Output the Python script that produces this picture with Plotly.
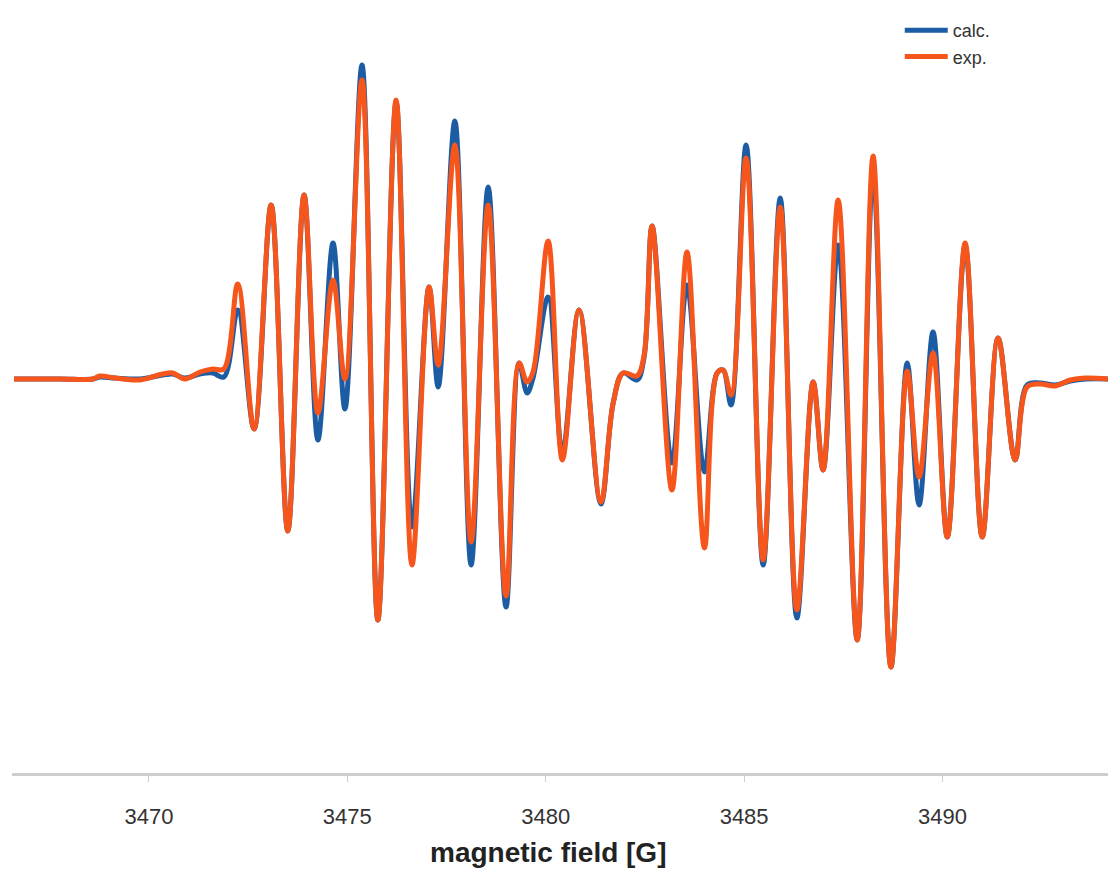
import plotly.graph_objects as go

# magnetic field positions [G] of the read-off points
field = [3466.60, 3467.76, 3468.59, 3468.76, 3469.14, 3469.77, 3470.35, 3470.60, 3470.91, 3471.29, 3471.61, 3471.89,
         3472.24, 3472.65, 3473.08, 3473.50, 3473.91, 3474.26, 3474.64, 3474.94, 3475.37, 3475.77,
         3476.23, 3476.63, 3477.06, 3477.29, 3477.71, 3478.12, 3478.55, 3479.00, 3479.33, 3479.53,
         3479.68, 3480.06, 3480.42, 3480.84, 3481.39, 3481.70, 3481.95, 3482.30, 3482.48, 3482.68,
         3483.18, 3483.56, 3484.00, 3484.32, 3484.47, 3484.67, 3485.05, 3485.48, 3485.91, 3486.33,
         3486.74, 3486.99, 3487.37, 3487.85, 3488.25, 3488.70, 3489.11, 3489.41, 3489.76, 3490.12,
         3490.57, 3491.00, 3491.40, 3491.83, 3492.13, 3492.46, 3492.84, 3493.22, 3493.60, 3494.17]

# experimental spectrum (arb. units)
exp_signal = [0, 0, 0, 3, 1, -1, 5, 6, 0, 7, 10, 10,
              95, -50, 174, -152, 184, -34, 99, 0, 299, -241,
              279, -186, 92, 14, 234, -163, 174, -217, 16, -3,
              7, 138, -81, 69, -123, -24, 6, 3, 24, 153,
              -111, 127, -169, 6, 9, -16, 221, -181, 172, -231,
              -3, -91, 179, -261, 223, -288, 8, -98, 26, -158,
              136, -158, 41, -81, -8, -5, -7, -1, 1, 0]

# calculated spectrum (arb. units)
calc_signal = [0, 0, 0, 2, 1, 0, 4, 5, 1, 5, 6, 2,
               69, -50, 174, -152, 184, -61, 136, -30, 314, -241,
               277, -148, 92, -8, 258, -186, 192, -228, 16, -14,
               1, 82, -74, 69, -125, -24, 6, -1, 22, 153,
               -84, 94, -93, 6, 9, -26, 234, -186, 181, -239,
               -3, -91, 134, -261, 207, -288, 16, -126, 47, -158,
               133, -158, 41, -81, -6, -4, -6, -2, 0, 0]

tick_vals = [3470, 3475, 3480, 3485, 3490]
tick_text = ["3470", "3475", "3480", "3485", "3490"]
x_title = "magnetic field [G]"

BLUE = "#1B5CA3"
ORANGE = "#F6561C"
FONT = "Liberation Sans, Arial, Helvetica, sans-serif"

fig = go.Figure()
fig.add_trace(go.Scatter(x=field, y=calc_signal, mode="lines", name="calc.",
                         legendgroup="calc",
                         line=dict(color=BLUE, width=5, shape="spline", smoothing=1.0)))
fig.add_trace(go.Scatter(x=field, y=exp_signal, mode="lines", name="exp.",
                         legendgroup="exp",
                         line=dict(color=ORANGE, width=5, shape="spline", smoothing=1.0)))

fig.update_layout(
    width=1108, height=871,
    margin=dict(l=12, r=0, t=10, b=98),
    paper_bgcolor="white", plot_bgcolor="white",
    font=dict(family=FONT, color="#333333"),
    showlegend=True,
    legend=dict(x=0.810, xanchor="left", y=1.0 - 2 / 763, yanchor="top",
                font=dict(size=18, color="#333333"),
                bgcolor="rgba(0,0,0,0)", tracegroupgap=0,
                itemwidth=43),
    xaxis=dict(range=[3466.55, 3494.17], showline=True, linecolor="#cdcdcd", linewidth=3,
               ticks="outside", ticklen=6, tickcolor="#cdcdcd", tickwidth=1,
               tickvals=tick_vals, ticktext=tick_text,
               tickfont=dict(size=22, color="#333333"), ticklabelstandoff=16,
               showgrid=False, zeroline=False),
    yaxis=dict(range=[-394, 369], visible=False, showgrid=False, zeroline=False),
    annotations=[dict(text=x_title, xref="paper", yref="paper",
                      x=(548 - 12) / 1096, y=-(852 - 773) / 763,
                      xanchor="center", yanchor="middle", showarrow=False,
                      font=dict(size=28, color="#222222", weight="bold", family=FONT))],
)

fig.write_html("out.html")
